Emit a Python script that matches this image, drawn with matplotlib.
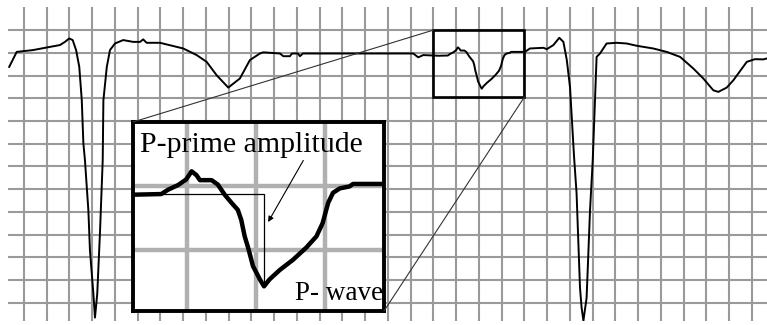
import matplotlib
matplotlib.use("Agg")
import matplotlib.pyplot as plt
from matplotlib.patches import Rectangle, ConnectionPatch

# ECG trace, in grid units (x = small squares, y = squares below the top grid line)
trace_t = [-0.65, -0.32, 0.40, 1.14, 1.58, 1.80, 1.99, 2.14, 2.29, 2.43, 2.54, 2.61,
           2.68, 2.83, 2.90, 3.05, 3.12, 3.22, 3.34, 3.46, 3.49, 3.64, 3.78, 4.00,
           4.36, 4.80, 5.10, 5.24, 5.39, 5.98, 7.00, 7.59, 8.03, 8.47, 8.98, 9.49,
           9.93, 10.37, 10.52, 11.25, 11.40, 11.69, 11.78, 12.04, 12.13, 12.26, 17.11,
           17.33, 17.55,
           18.22, 18.63, 18.73, 18.87, 18.99, 19.07, 19.14, 19.19, 19.36, 19.45, 19.55,
           19.65, 19.74, 19.79, 19.84, 19.89, 19.96, 20.06, 20.12, 20.20, 20.35, 20.54,
           20.73, 20.88, 20.97, 21.05, 21.12, 21.22, 21.36, 21.41, 21.89,
           22.02, 22.24, 22.83, 22.98, 23.27, 23.53, 23.71, 23.86, 24.00, 24.18, 24.29,
           24.36, 24.44, 24.51, 24.59, 24.73, 24.80, 24.88, 25.00, 25.17, 25.32, 25.61,
           26.05, 26.49, 26.93, 27.66, 28.25, 28.84, 29.42, 29.86, 30.30, 30.52, 30.89,
           31.18, 31.77, 32.13, 32.50, 32.65]
trace_v = [1.62, 0.96, 0.88, 0.74, 0.66, 0.52, 0.37, 0.44, 0.88, 1.62, 3.09, 4.98,
           5.73, 7.94, 9.70, 11.60, 12.65, 11.60, 8.91, 5.73, 3.09, 1.62, 0.88, 0.59,
           0.44, 0.52, 0.52, 0.41, 0.56, 0.56, 0.81, 1.10, 1.40, 1.99, 2.53, 2.13,
           1.32, 1.03, 0.98, 1.03, 1.15, 1.15, 1.03, 1.03, 1.15, 1.03, 1.03,
           1.20, 1.10,
           1.13, 1.12, 1.05, 0.98, 0.89, 0.76, 0.82, 0.90, 0.90, 0.97, 1.13,
           1.26, 1.37, 1.53, 1.79, 1.97, 2.26, 2.47, 2.58, 2.47, 2.32, 2.16,
           1.97, 1.79, 1.58, 1.26, 1.10, 1.03, 1.00, 0.96, 0.96,
           0.96, 0.81, 0.78, 0.84, 0.66, 0.34, 0.52, 1.32, 2.50, 5.59, 7.19,
           9.13, 11.34, 12.21, 12.79, 11.78, 10.01, 7.94, 5.73, 1.18, 1.03, 0.59,
           0.56, 0.59, 0.69, 0.81, 0.96, 1.18, 1.69, 2.13, 2.65, 2.72, 2.53,
           2.21, 1.40, 1.28, 1.29, 1.25]

zoom_box = (18, 22, 0, 2.94)          # region shown magnified
baseline_v = 1.12                      # P-prime reference level
p_min = (20.12, 2.58)                  # lowest point of the P-wave
arrow_tail = (20.71, 0.55)

fig = plt.figure(figsize=(7.67, 3.25), dpi=100)
ax = fig.add_axes([8 / 767, 1 - 321 / 325, 1 - 8 / 767, 314 / 325])
ax.set_xlim(-0.703, 32.66)
ax.set_ylim(12.8, -1.015)
ax.set_xticks(range(0, 33))
ax.set_yticks(range(0, 13))
ax.grid(True, color="#9a9a9a", lw=1.5)
ax.tick_params(length=0, labelbottom=False, labelleft=False)
for s in ax.spines.values():
    s.set_visible(False)
ax.plot(trace_t, trace_v, color="black", lw=1.4, zorder=3)
x0, x1, y0, y1 = zoom_box
ax.add_patch(Rectangle((x0, y0), x1 - x0, y1 - y0, fill=False, ec="black", lw=1.9, zorder=4))

# magnified inset
ax_in = fig.add_axes([133 / 767, 1 - 311 / 325, 251 / 767, 189 / 325])
ax_in.set_xlim(18.22, 21.86)
ax_in.set_ylim(2.97, -0.02)
ax_in.set_xticks([19, 20, 21])
ax_in.set_yticks([1, 2])
ax_in.grid(True, color="#b0b0b0", lw=3.2)
ax_in.tick_params(length=0, labelbottom=False, labelleft=False)
for s in ax_in.spines.values():
    s.set_linewidth(2.8)
    s.set_color("black")
ax_in.plot(trace_t, trace_v, color="black", lw=3.2, zorder=3)
ax_in.plot([18.22, p_min[0], p_min[0]], [baseline_v, baseline_v, p_min[1]],
           color="black", lw=0.9, zorder=2)
ax_in.annotate("", xy=(20.16, 1.60), xytext=arrow_tail,
               arrowprops=dict(arrowstyle="-|>", color="black", lw=0.8,
                               mutation_scale=8))
ax_in.text(0.028, 0.84, "P-prime amplitude", transform=ax_in.transAxes,
           fontsize=21.5, family="Liberation Serif", va="baseline")
ax_in.text(0.645, 0.058, "P- wave", transform=ax_in.transAxes,
           fontsize=19.5, family="Liberation Serif", va="baseline")

for pa, pb in [((0, 1), (x0, y0)), ((1, 0), (x1, y1))]:
    con = ConnectionPatch(xyA=pa, coordsA=ax_in.transAxes, xyB=pb, coordsB=ax.transData,
                          color="#333333", lw=0.8)
    fig.add_artist(con)

fig.savefig("out.png", dpi=100)
